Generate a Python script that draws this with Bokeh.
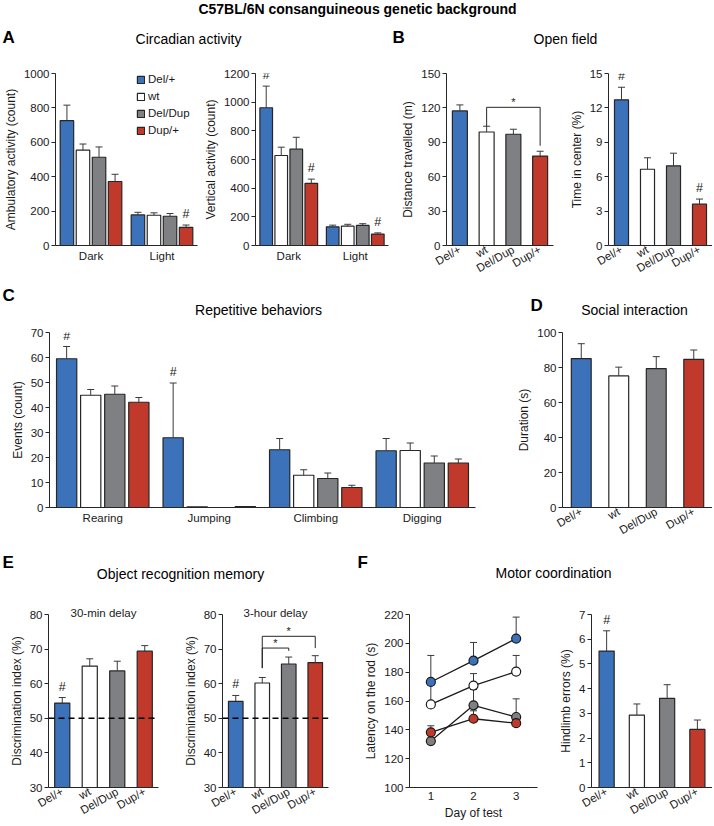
from bokeh.plotting import figure
from bokeh.layouts import column, row
from bokeh.models import (ColumnDataSource, Range1d, FixedTicker, Span, Legend, LegendItem)
from bokeh.transform import dodge
from bokeh.core.properties import value
from bokeh.embed import file_html
from bokeh.resources import INLINE

# ---------------- data ----------------
groups = ["Del/+", "wt", "Del/Dup", "Dup/+"]
group_colors = ["#3B72B9", "#FFFFFF", "#7F8083", "#C0392B"]

circ_periods = ["Dark", "Light"]
amb_mean = [[726, 178], [554, 176], [513, 170], [372, 105]]
amb_err = [[90, 15], [36, 14], [60, 16], [42, 14]]
amb_hash = [[0, 0], [0, 0], [0, 0], [0, 1]]
amb_ticks = [0, 200, 400, 600, 800, 1000]

vert_mean = [[961, 130], [628, 135], [672, 140], [433, 80]]
vert_err = [[151, 12], [58, 13], [83, 12], [30, 8]]
vert_hash = [[1, 0], [0, 0], [0, 0], [1, 1]]
vert_ticks = [0, 200, 400, 600, 800, 1000, 1200]

dist_mean = [117.4, 99.0, 97.0, 78.0]
dist_err = [5.2, 5.0, 4.4, 4.2]
dist_hash = [0, 0, 0, 0]
dist_ticks = [0, 30, 60, 90, 120, 150]
dist_sig_pairs = [("wt", "Dup/+")]
dist_sig_level = [120.5]
dist_sig_legs = [(104.0, 87.0)]

center_mean = [12.7, 6.65, 6.95, 3.6]
center_err = [1.1, 1.0, 1.1, 0.45]
center_hash = [1, 0, 0, 1]
center_ticks = [0, 3, 6, 9, 12, 15]

rep_behaviors = ["Rearing", "Jumping", "Climbing", "Digging"]
rep_mean = [[59.5, 27.9, 23.1, 22.7], [44.9, 0.3, 12.9, 22.8],
            [45.3, 0.0, 11.6, 17.8], [42.1, 0.4, 8.0, 17.8]]
rep_err = [[4.9, 21.9, 4.5, 4.9], [2.3, 0, 2.2, 3.0],
           [3.3, 0, 2.2, 2.8], [1.9, 0, 0.9, 1.6]]
rep_hash = [[1, 1, 0, 0], [0, 0, 0, 0], [0, 0, 0, 0], [0, 0, 0, 0]]
rep_ticks = [0, 10, 20, 30, 40, 50, 60, 70]

social_mean = [85.1, 75.2, 79.4, 84.7]
social_err = [8.5, 5.0, 6.8, 5.3]
social_hash = [0, 0, 0, 0]
social_ticks = [0, 20, 40, 60, 80, 100]

nor30_mean = [54.4, 65.1, 63.7, 69.4]
nor30_err = [1.6, 2.1, 2.8, 1.6]
nor30_hash = [1, 0, 0, 0]
nor3h_mean = [54.9, 60.2, 65.7, 66.1]
nor3h_err = [1.7, 1.6, 2.0, 2.0]
nor3h_hash = [1, 0, 0, 0]
nor_ticks = [30, 40, 50, 60, 70, 80]
chance_level = 50
nor3h_sig_pairs = [("wt", "Dup/+"), ("wt", "Del/Dup")]
nor3h_sig_level = [73.7, 70.3]
nor3h_sig_legs = [(64.5, 70.3), (64.5, 69.5)]

rotarod_days = [1, 2, 3]
rotarod_mean = [[173.2, 188.0, 203.3], [157.6, 170.7, 180.4],
                [132.2, 157.0, 148.9], [138.3, 147.7, 144.6]]
rotarod_err = [[18.4, 12.6, 14.9], [13.5, 8.3, 11.2],
               [8.0, 11.0, 12.6], [4.5, 5.5, 3.5]]
rotarod_ticks = [100, 120, 140, 160, 180, 200, 220]

hindlimb_mean = [5.52, 2.93, 3.61, 2.35]
hindlimb_err = [0.82, 0.45, 0.55, 0.38]
hindlimb_hash = [1, 0, 0, 0]
hindlimb_ticks = [0, 1, 2, 3, 4, 5, 6, 7]

# ---------------- style ----------------
FONT = "Liberation Sans"
TXT = "#1a1a1a"
EDGE = "#262626"
ERRC = "#3a3a3a"
TOTAL_W = 712


def base_fig(w, h, bl, br, bt, bb, x_range, y_range):
    p = figure(width=w, height=h, x_range=x_range, y_range=y_range,
               toolbar_location=None, output_backend="svg",
               min_border_left=bl, min_border_right=br,
               min_border_top=bt, min_border_bottom=bb)
    p.grid.visible = False
    p.outline_line_color = None
    for ax in (p.xaxis[0], p.yaxis[0]):
        ax.axis_line_color = EDGE
        ax.axis_line_width = 1
        ax.major_label_text_font = FONT
        ax.major_label_text_font_size = "11.5px"
        ax.major_label_text_color = TXT
        ax.axis_label_text_font = FONT
        ax.axis_label_text_font_size = "12px"
        ax.axis_label_text_font_style = "normal"
        ax.axis_label_text_color = TXT
        ax.minor_tick_line_color = None
    y = p.yaxis[0]
    y.major_tick_out = 4
    y.major_tick_in = 0
    y.major_tick_line_color = EDGE
    y.major_label_standoff = 2
    y.axis_label_standoff = 3
    x = p.xaxis[0]
    x.major_tick_line_color = None
    x.major_tick_out = 0
    x.major_tick_in = 0
    x.major_label_standoff = 4
    x.axis_label_standoff = 3
    return p


def draw_series(p, xs, tops, errs, hashes, color, offset, width, bottom=0):
    n = len(xs)
    src = ColumnDataSource(dict(x=xs, top=tops, bottom=[bottom] * n))
    xd = dodge('x', offset, range=p.x_range)
    r = p.vbar(x=xd, top='top', bottom='bottom', width=width, fill_color=color,
               line_color=EDGE, line_width=1.2, source=src)
    ex = [(x, t, t + e) for x, t, e in zip(xs, tops, errs) if e > 0]
    if ex:
        esrc = ColumnDataSource(dict(x=[a[0] for a in ex], y0=[a[1] for a in ex],
                                     y1=[a[2] for a in ex]))
        p.segment(x0=dodge('x', offset, range=p.x_range), y0='y0',
                  x1=dodge('x', offset, range=p.x_range), y1='y1',
                  line_color=ERRC, line_width=1, source=esrc)
        p.scatter(x=dodge('x', offset, range=p.x_range), y='y1', marker='dash',
                  size=7, line_color=ERRC, line_width=1, source=esrc)
    hx = [(x, t + e) for x, t, e, h in zip(xs, tops, errs, hashes) if h]
    if hx:
        hsrc = ColumnDataSource(dict(x=[a[0] for a in hx], y=[a[1] for a in hx],
                                     t=["#"] * len(hx)))
        p.text(x=dodge('x', offset, range=p.x_range), y='y', text='t',
               text_align='center', text_baseline='bottom', y_offset=-4,
               text_font=value(FONT), text_font_size="12.5px", text_color=TXT,
               source=hsrc)
    return r


def grouped_chart(p, cats, means, errs, hashes, width, offsets):
    rs = []
    for gi in range(len(groups)):
        rs.append(draw_series(p, cats, means[gi], errs[gi], hashes[gi],
                              group_colors[gi], offsets[gi], width))
    return rs


def single_chart(p, means, errs, hashes, width, bottom=0):
    for gi in range(len(groups)):
        draw_series(p, [groups[gi]], [means[gi]], [errs[gi]], [hashes[gi]],
                    group_colors[gi], 0, width, bottom)


def sig_brackets(p, pairs, levels, legs, star_offsets):
    x0, y0, x1, y1 = [], [], [], []
    sx, sy = [], []
    for (a, b), lv, (la, lb) in zip(pairs, levels, legs):
        x0 += [a, a, b]
        x1 += [a, b, b]
        y0 += [la, lv, lv]
        y1 += [lv, lv, lb]
        sx.append(a)
        sy.append(lv)
    p.segment(x0='x0', y0='y0', x1='x1', y1='y1', line_color=EDGE, line_width=1,
              source=ColumnDataSource(dict(x0=x0, y0=y0, x1=x1, y1=y1)))
    for x, y, so in zip(sx, sy, star_offsets):
        p.text(x=dodge('x', so, range=p.x_range), y='y', text='t',
               text_align='center', text_baseline='bottom', y_offset=1,
               text_font=value(FONT), text_font_size="11px", text_color=TXT,
               source=ColumnDataSource(dict(x=[x], y=[y], t=["*"])))


def header_fig(h, items):
    p = figure(width=TOTAL_W, height=h, x_range=Range1d(0, TOTAL_W), y_range=Range1d(h, 0),
               toolbar_location=None, output_backend="svg", min_border=0,
               x_axis_location=None, y_axis_location=None)
    p.grid.visible = False
    p.outline_line_color = None
    for (x, y, t, size, bold, align) in items:
        p.text(x=[x], y=[y], text=[t], text_font=value(FONT), text_font_size=size,
               text_font_style="bold" if bold else "normal", text_align=align,
               text_baseline="middle", text_color="#000000")
    return p


GROUP_OFFSETS = [-0.339, -0.113, 0.113, 0.339]
ROT = 0.52

# ---------------- headers ----------------
h1 = header_fig(58, [
    (357, 8, "C57BL/6N consanguineous genetic background", "14px", True, "center"),
    (2, 37, "A", "17px", True, "left"),
    (188, 38, "Circadian activity", "14px", False, "center"),
    (392, 37, "B", "17px", True, "left"),
    (565, 38, "Open field", "14px", False, "center"),
])
h2 = header_fig(38, [
    (2, 13, "C", "17px", True, "left"),
    (258, 27, "Repetitive behaviors", "14px", False, "center"),
    (530, 23, "D", "17px", True, "left"),
    (634, 27, "Social interaction", "14px", False, "center"),
])
h3 = header_fig(46, [
    (2, 12, "E", "17px", True, "left"),
    (180, 23, "Object recognition memory", "14px", False, "center"),
    (357, 12, "F", "17px", True, "left"),
    (553, 22, "Motor coordination", "14px", False, "center"),
])

# ---------------- row 1 ----------------
a1 = base_fig(200, 224, 50, 3, 15, 36, circ_periods, Range1d(0, 1000))
a1.yaxis.ticker = FixedTicker(ticks=amb_ticks)
a1.yaxis.axis_label = "Ambulatory activity (count)"
rs = grouped_chart(a1, circ_periods, amb_mean, amb_err, amb_hash, 0.19, GROUP_OFFSETS)
leg = Legend(items=[LegendItem(label=g, renderers=[r]) for g, r in zip(groups, rs)],
             location=(81, 108), padding=0, margin=0, spacing=3,
             label_height=14, glyph_width=9, glyph_height=9, label_standoff=3,
             label_text_font=FONT, label_text_font_size="11.5px", label_text_color=TXT,
             background_fill_alpha=0, border_line_color=None)
a1.add_layout(leg)

a2 = base_fig(198, 224, 48, 10, 15, 36, circ_periods, Range1d(0, 1200))
a2.yaxis.ticker = FixedTicker(ticks=vert_ticks)
a2.yaxis.axis_label = "Vertical activity (count)"
grouped_chart(a2, circ_periods, vert_mean, vert_err, vert_hash, 0.19, GROUP_OFFSETS)

b1 = base_fig(162, 224, 48, 7, 15, 36, groups, Range1d(0, 150))
b1.yaxis.ticker = FixedTicker(ticks=dist_ticks)
b1.yaxis.axis_label = "Distance travelled (m)"
b1.xaxis.major_label_orientation = ROT
b1.xaxis.major_label_standoff = 3
single_chart(b1, dist_mean, dist_err, dist_hash, 0.56)
sig_brackets(b1, dist_sig_pairs, dist_sig_level, dist_sig_legs, [1.0])

b2 = base_fig(152, 224, 48, 0, 15, 36, groups, Range1d(0, 15))
b2.yaxis.ticker = FixedTicker(ticks=center_ticks)
b2.yaxis.axis_label = "Time in center (%)"
b2.xaxis.major_label_orientation = ROT
b2.xaxis.major_label_standoff = 3
single_chart(b2, center_mean, center_err, center_hash, 0.54)

# ---------------- row 2 ----------------
c = base_fig(478, 230, 49, 3, 12, 43, rep_behaviors, Range1d(0, 70))
c.yaxis.ticker = FixedTicker(ticks=rep_ticks)
c.yaxis.axis_label = "Events (count)"
grouped_chart(c, rep_behaviors, rep_mean, rep_err, rep_hash, 0.19, GROUP_OFFSETS)

d = base_fig(234, 230, 84, 0, 12, 43, groups, Range1d(0, 100))
d.yaxis.ticker = FixedTicker(ticks=social_ticks)
d.yaxis.axis_label = "Duration (s)"
d.xaxis.major_label_orientation = ROT
d.xaxis.major_label_standoff = 3
single_chart(d, social_mean, social_err, social_hash, 0.53)

# ---------------- row 3 ----------------
def nor_fig(w, bl, br, means, errs, hashes, subtitle):
    p = base_fig(w, 228, bl, br, 18, 36, groups, Range1d(30, 80))
    p.yaxis.ticker = FixedTicker(ticks=nor_ticks)
    p.yaxis.axis_label = "Discrimination index (%)"
    p.xaxis.major_label_orientation = ROT
    p.xaxis.major_label_standoff = 3
    single_chart(p, means, errs, hashes, 0.55, bottom=30)
    p.add_layout(Span(location=chance_level, dimension='width', line_color="#000000",
                      line_width=1.5, line_dash="6 4"))
    p.title.text = subtitle
    p.title.align = "center"
    p.title.standoff = -9
    p.title.text_font = FONT
    p.title.text_font_size = "11.5px"
    p.title.text_font_style = "normal"
    p.title.text_color = TXT
    return p


e1 = nor_fig(180, 48, 22, nor30_mean, nor30_err, nor30_hash, "30-min delay")
e2 = nor_fig(180, 37, 32, nor3h_mean, nor3h_err, nor3h_hash, "3-hour delay")
sig_brackets(e2, nor3h_sig_pairs, nor3h_sig_level, nor3h_sig_legs, [1.0, 0.5])

f1 = base_fig(196, 228, 49, 19, 15, 36, Range1d(0.5, 3.5), Range1d(100, 220))
f1.yaxis.ticker = FixedTicker(ticks=rotarod_ticks)
f1.xaxis.ticker = FixedTicker(ticks=rotarod_days)
f1.yaxis.axis_label = "Latency on the rod (s)"
f1.xaxis.axis_label = "Day of test"
for gi in range(len(groups)):
    src = ColumnDataSource(dict(x=rotarod_days, y=rotarod_mean[gi],
                                up=[m + e for m, e in zip(rotarod_mean[gi], rotarod_err[gi])]))
    f1.segment(x0='x', y0='y', x1='x', y1='up', line_color=ERRC, line_width=1, source=src)
    f1.scatter(x='x', y='up', marker='dash', size=7, line_color=ERRC, line_width=1, source=src)
for gi in range(len(groups)):
    f1.line(rotarod_days, rotarod_mean[gi], line_color="#1a1a1a", line_width=1.3)
for gi in range(len(groups)):
    f1.scatter(rotarod_days, rotarod_mean[gi], size=9, fill_color=group_colors[gi],
               line_color="#1a1a1a", line_width=1.2)

f2 = base_fig(156, 228, 33, 0, 15, 36, groups, Range1d(0, 7))
f2.yaxis.ticker = FixedTicker(ticks=hindlimb_ticks)
f2.yaxis.axis_label = "Hindlimb errors (%)"
f2.xaxis.major_label_orientation = ROT
f2.xaxis.major_label_standoff = 3
single_chart(f2, hindlimb_mean, hindlimb_err, hindlimb_hash, 0.5)

layout = column(h1, row(a1, a2, b1, b2), h2, row(c, d), h3, row(e1, e2, f1, f2))

with open("out.html", "w") as fh:
    fh.write(file_html(layout, INLINE))
